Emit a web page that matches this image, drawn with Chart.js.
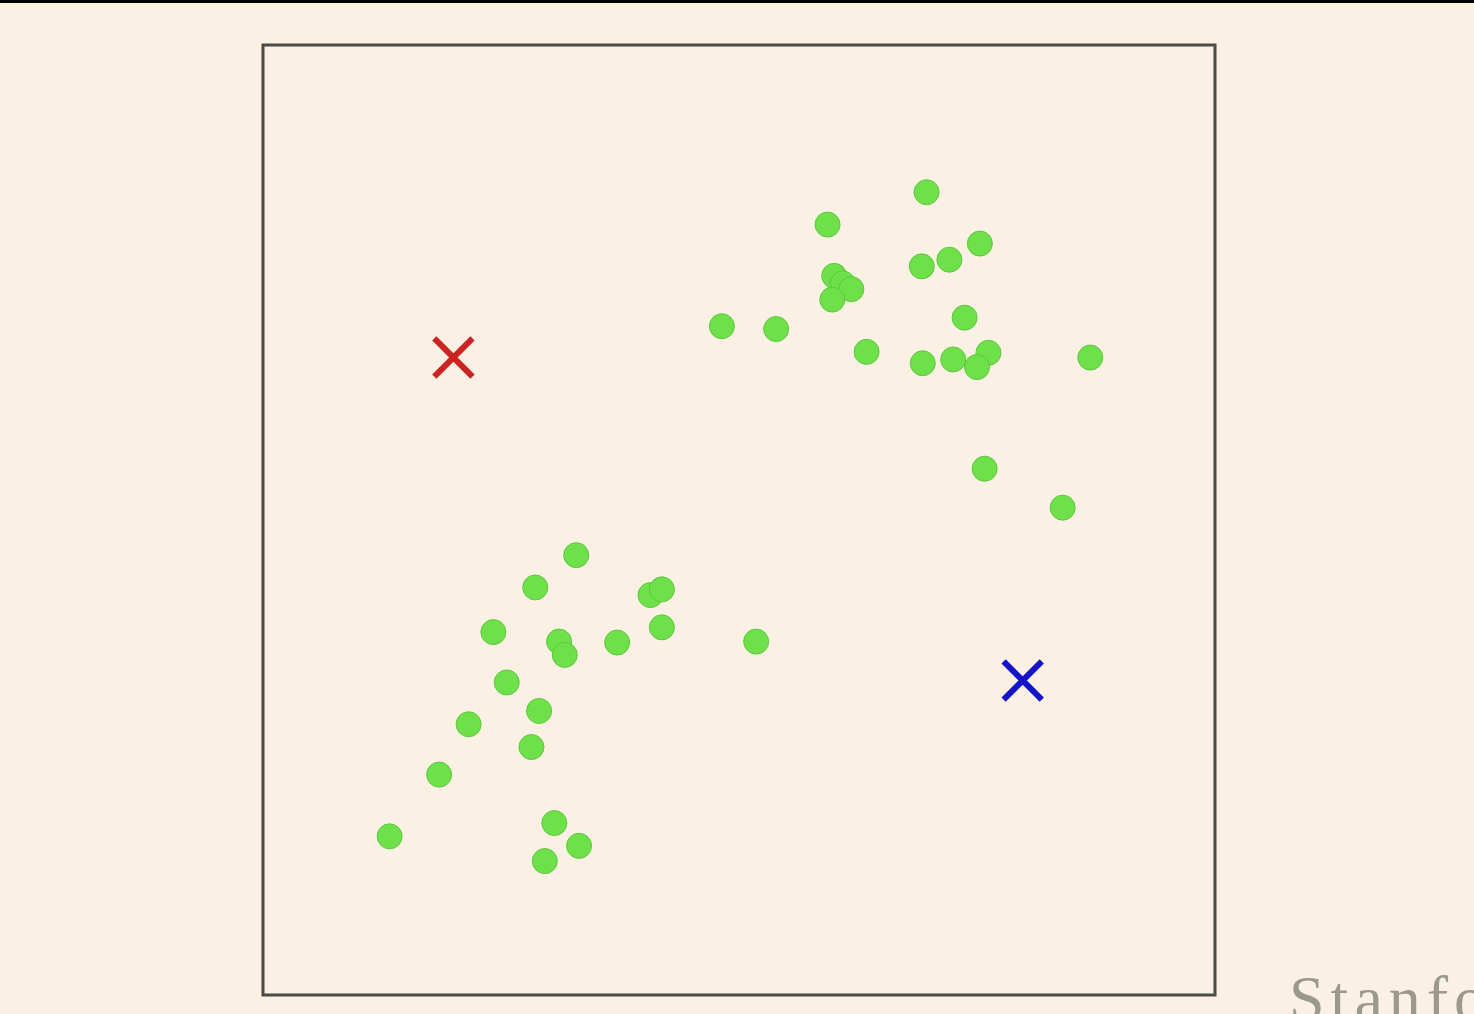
<!DOCTYPE html>
<html>
<head>
<meta charset="utf-8">
<script src="https://cdn.jsdelivr.net/npm/chart.js@4"></script>
<style>
  html, body { margin: 0; padding: 0; background: #faf1e4; overflow: hidden; }
  #wrap { position: relative; width: 1474px; height: 1014px; }
  canvas { display: block; }
  #brand {
    position: absolute; left: 1289px; top: 962px;
    font-family: "Liberation Serif", serif; font-size: 64px; letter-spacing: 6px;
    color: #9b988e; white-space: nowrap;
  }
</style>
</head>
<body>
<div id="wrap">
  <canvas id="myChart" width="1474" height="1014"></canvas>
  <div id="brand">Stanford</div>
</div>
<script>
// unlabeled points (x, y on a 0..10 box)
var pointsX = [6.97, 5.93, 7.53, 6.92, 7.21, 6.00, 6.09, 6.18, 5.98, 4.82, 5.39, 7.37, 6.34, 6.93, 7.25, 7.62, 7.50, 8.69, 7.58, 8.40,
  3.29, 2.86, 4.07, 4.19, 4.19, 2.42, 3.11, 3.17, 3.72, 5.18, 2.56, 2.90, 2.16, 2.82, 1.85, 1.33, 3.06, 3.32, 2.96]
var pointsY = [8.45, 8.11, 7.91, 7.67, 7.74, 7.57, 7.49, 7.43, 7.32, 7.04, 7.01, 7.13, 6.77, 6.65, 6.69, 6.76, 6.61, 6.71, 5.54, 5.13,
  4.63, 4.29, 4.21, 4.27, 3.87, 3.82, 3.72, 3.58, 3.71, 3.72, 3.29, 2.99, 2.85, 2.61, 2.32, 1.67, 1.81, 1.57, 1.41]
// cluster centroids
var redCentroid = [2.00, 6.71]
var blueCentroid = [7.98, 3.31]

var pts = pointsX.map(function (x, i) { return { x: x, y: pointsY[i] } })

var frame = {
  id: 'frame',
  beforeDraw: function (chart) {
    var c = chart.ctx
    c.save()
    c.fillStyle = '#faf1e4'
    c.fillRect(0, 0, chart.width, chart.height)
    c.fillStyle = '#000'
    c.fillRect(0, 0, chart.width, 3)
    c.restore()
  },
  afterDraw: function (chart) {
    var a = chart.chartArea
    var c = chart.ctx
    c.save()
    c.strokeStyle = '#4a4a48'
    c.lineWidth = 3
    c.strokeRect(a.left, a.top, a.right - a.left, a.bottom - a.top)
    c.restore()
  }
}

var ctx = document.getElementById('myChart').getContext('2d')
var myChart = new Chart(ctx, {
  type: 'scatter',
  data: {
    datasets: [
      {
        label: 'points',
        data: pts,
        pointRadius: 12.5,
        pointHoverRadius: 12.5,
        pointBackgroundColor: '#6ee04a',
        pointBorderColor: '#5cc83c',
        pointBorderWidth: 1,
      },
      {
        label: 'red',
        data: [{ x: redCentroid[0], y: redCentroid[1] }],
        pointStyle: 'crossRot',
        pointRadius: 27,
        pointBorderColor: '#cc2222',
        pointBorderWidth: 6,
      },
      {
        label: 'blue',
        data: [{ x: blueCentroid[0], y: blueCentroid[1] }],
        pointStyle: 'crossRot',
        pointRadius: 27,
        pointBorderColor: '#1414c8',
        pointBorderWidth: 6,
      },
    ],
  },
  options: {
    responsive: false,
    animation: false,
    layout: { autoPadding: false, padding: { left: 263, top: 45, right: 259, bottom: 19 } },
    plugins: { legend: { display: false }, tooltip: { enabled: false } },
    scales: {
      x: { type: 'linear', min: 0, max: 10, display: false },
      y: { type: 'linear', min: 0, max: 10, display: false },
    },
  },
  plugins: [frame],
})
</script>
</body>
</html>
